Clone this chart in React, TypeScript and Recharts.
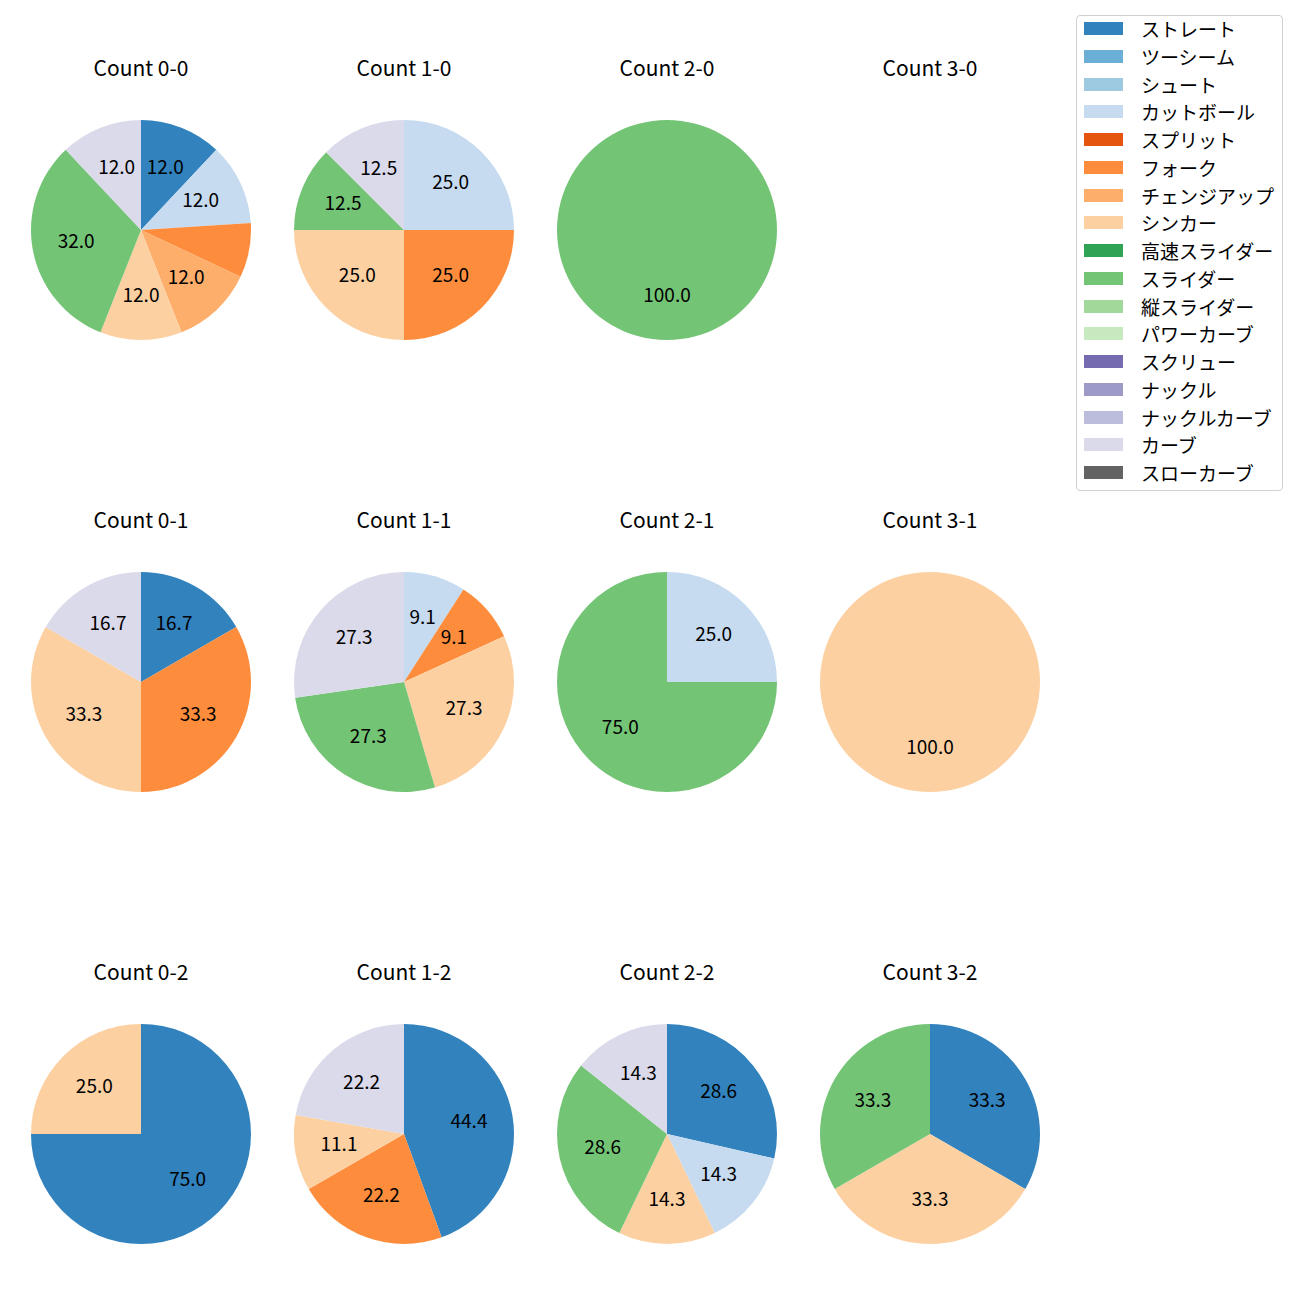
import { PieChart, Pie, Cell } from 'recharts'

const pitchTypes = [
  'ストレート', 'ツーシーム', 'シュート', 'カットボール', 'スプリット', 'フォーク',
  'チェンジアップ', 'シンカー', '高速スライダー', 'スライダー', '縦スライダー',
  'パワーカーブ', 'スクリュー', 'ナックル', 'ナックルカーブ', 'カーブ', 'スローカーブ'
]

const pitchColors = [
  '#3182bd', '#6baed6', '#9ecae1', '#c6dbef', '#e6550d', '#fd8d3c',
  '#fdae6b', '#fdd0a2', '#31a354', '#74c476', '#a1d99b',
  '#c7e9c0', '#756bb1', '#9e9ac8', '#bcbddc', '#dadaeb', '#636363'
]

// pitch counts per ball-strike count, in pitchTypes order
const count00 = [3, 0, 0, 3, 0, 2, 3, 3, 0, 8, 0, 0, 0, 0, 0, 3, 0]
const count10 = [0, 0, 0, 2, 0, 2, 0, 2, 0, 1, 0, 0, 0, 0, 0, 1, 0]
const count20 = [0, 0, 0, 0, 0, 0, 0, 0, 0, 1, 0, 0, 0, 0, 0, 0, 0]
const count30 = [0, 0, 0, 0, 0, 0, 0, 0, 0, 0, 0, 0, 0, 0, 0, 0, 0]
const count01 = [1, 0, 0, 0, 0, 2, 0, 2, 0, 0, 0, 0, 0, 0, 0, 1, 0]
const count11 = [0, 0, 0, 1, 0, 1, 0, 3, 0, 3, 0, 0, 0, 0, 0, 3, 0]
const count21 = [0, 0, 0, 1, 0, 0, 0, 0, 0, 3, 0, 0, 0, 0, 0, 0, 0]
const count31 = [0, 0, 0, 0, 0, 0, 0, 1, 0, 0, 0, 0, 0, 0, 0, 0, 0]
const count02 = [3, 0, 0, 0, 0, 0, 0, 1, 0, 0, 0, 0, 0, 0, 0, 0, 0]
const count12 = [4, 0, 0, 0, 0, 2, 0, 1, 0, 0, 0, 0, 0, 0, 0, 2, 0]
const count22 = [2, 0, 0, 1, 0, 0, 0, 1, 0, 2, 0, 0, 0, 0, 0, 1, 0]
const count32 = [1, 0, 0, 0, 0, 0, 0, 1, 0, 1, 0, 0, 0, 0, 0, 0, 0]

const countNames = [
  ['0-0', '1-0', '2-0', '3-0'],
  ['0-1', '1-1', '2-1', '3-1'],
  ['0-2', '1-2', '2-2', '3-2']
]
const countValues = [
  [count00, count10, count20, count30],
  [count01, count11, count21, count31],
  [count02, count12, count22, count32]
]

// slices drawn without a percentage label in the original
const hiddenLabels = [{ count: '0-0', pitch: 'フォーク' }]

const colX = [141, 404, 667, 930]
const rowY = [230, 682, 1134]
const RADIUS = 110
const FONT = '"Noto Sans CJK JP", "Noto Sans", sans-serif'
const RADIAN = Math.PI / 180

const makeLabel = (count: string) => (props: any) => {
  const { cx, cy, midAngle, outerRadius, percent, name } = props
  if (hiddenLabels.some(h => h.count === count && h.pitch === name)) return null
  const r = outerRadius * 0.6
  const x = cx + r * Math.cos(-midAngle * RADIAN)
  const y = cy + r * Math.sin(-midAngle * RADIAN)
  return (
    <text x={x} y={y - 3} textAnchor="middle" dominantBaseline="central"
      fill="#000" fontSize={19} fontFamily={FONT}>
      {(percent * 100).toFixed(1)}
    </text>
  )
}

const App = () => {
  const pies: any[] = []
  countNames.forEach((row, ri) => {
    row.forEach((count, ci) => {
      const data = pitchTypes
        .map((name, i) => ({ name, value: countValues[ri][ci][i], color: pitchColors[i] }))
        .filter(d => d.value > 0)
      pies.push({ count, data, cx: colX[ci], cy: rowY[ri] })
    })
  })

  return (
    <div style={{ position: 'absolute', left: 0, top: 0, width: 1300, height: 1300, background: '#fff' }}>
      <PieChart width={1300} height={1300} margin={{ top: 0, right: 0, bottom: 0, left: 0 }}>
        {pies.filter(p => p.data.length > 0).map(p => (
          <Pie
            key={p.count}
            data={p.data}
            dataKey="value"
            nameKey="name"
            cx={p.cx}
            cy={p.cy}
            outerRadius={RADIUS}
            startAngle={90}
            endAngle={-270}
            stroke="none"
            label={makeLabel(p.count)}
            labelLine={false}
            isAnimationActive={false}
          >
            {p.data.map((d: any) => <Cell key={d.name} fill={d.color} />)}
          </Pie>
        ))}
      </PieChart>

      {pies.map(p => (
        <div key={'t' + p.count} style={{
          position: 'absolute', left: p.cx - 80, width: 160, top: p.cy - 161 - 15,
          textAlign: 'center', fontFamily: FONT, fontSize: 21, lineHeight: '26px', color: '#000'
        }}>
          Count {p.count}
        </div>
      ))}

      <div style={{
        position: 'absolute', left: 1076, top: 15, width: 205, height: 474,
        border: '1px solid #d0d0d0', borderRadius: 4, background: '#fff', fontFamily: FONT
      }}>
        {pitchTypes.map((name, i) => (
          <div key={name} style={{ position: 'absolute', left: 0, top: 13 + i * 27.75 - 12, height: 24, width: 205 }}>
            <div style={{ position: 'absolute', left: 7, top: 5, width: 39, height: 13, background: pitchColors[i] }} />
            <div style={{ position: 'absolute', left: 64, top: 0, fontSize: 19, lineHeight: '24px', color: '#000', whiteSpace: 'nowrap' }}>
              {name}
            </div>
          </div>
        ))}
      </div>
    </div>
  )
}

export default App
